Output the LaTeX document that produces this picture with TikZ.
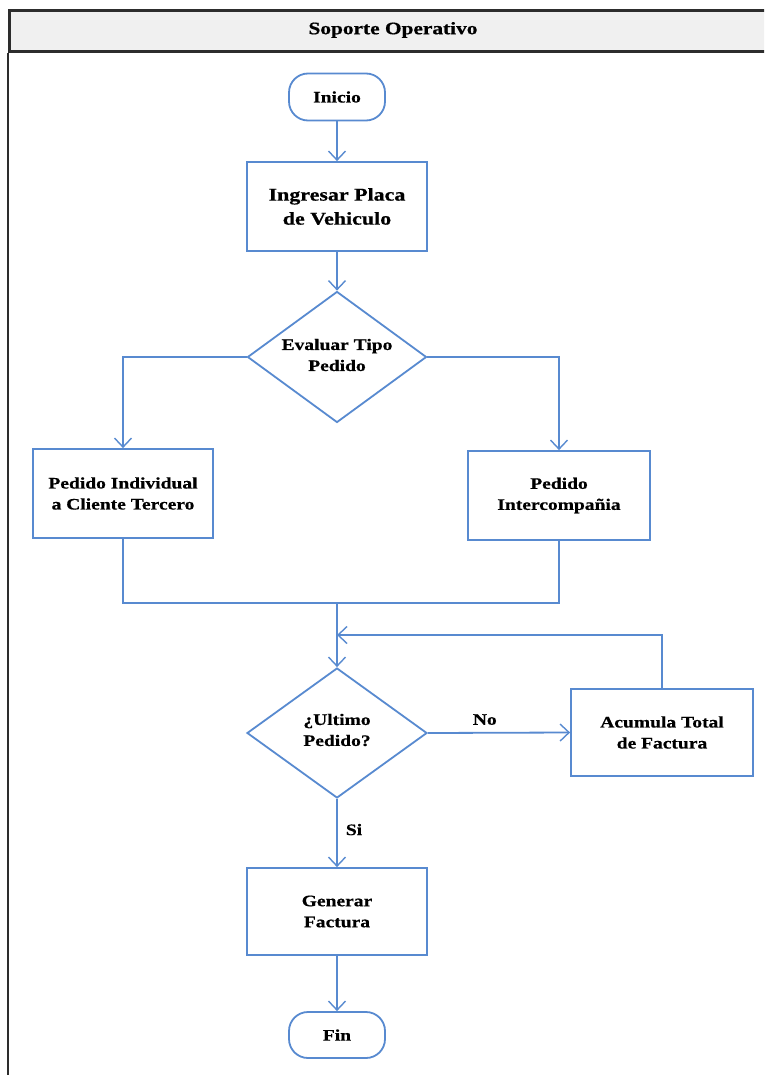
\documentclass[tikz,border=0pt]{standalone}
\usepackage{fontspec}
\setmainfont{Liberation Serif}[FakeStretch=1.22, BoldFeatures={FakeBold=0.6}]
\usetikzlibrary{shapes.geometric,arrows.meta}
\definecolor{flow}{RGB}{88,138,208}
\definecolor{frame}{RGB}{45,45,45}
\definecolor{headfill}{RGB}{240,240,240}
\begin{document}
\begin{tikzpicture}[x=1pt,y=-1pt,
  every node/.style={font=\bfseries\fontsize{16}{21}\selectfont, align=center, inner sep=0pt},
  >={Straight Barb[length=9pt,width=17pt,line width=1.4pt]},
  link/.style={draw=flow, line width=1.8pt},
  stepbox/.style={draw=flow, line width=1.8pt, fill=white, rectangle},
  term/.style={draw=flow, line width=1.8pt, fill=white, rectangle, rounded corners=19pt,
               minimum width=96pt, minimum height=47pt},
  decision/.style={draw=flow, line width=1.8pt, fill=white, diamond},
  tag/.style={font=\bfseries\fontsize{16}{20}\selectfont}
]
\useasboundingbox (0,0) rectangle (764,1075);
\clip (0,0) rectangle (764,1075);
\fill[white] (0,0) rectangle (764,1075);

% pool header and frame
\node[draw=frame, line width=2.8pt, fill=headfill, anchor=north west,
      minimum width=770pt, minimum height=41pt] (hdr) at (8,9) {};
\node[font=\bfseries\fontsize{17.5}{21}\selectfont] (hdrt) at (393,30) {Soporte Operativo};
\draw[frame, line width=2.8pt] (hdr.south west) -- (8,1085);

% steps
\node[term] (inicio) at (337,97) {Inicio};
\node[stepbox, minimum width=180pt, minimum height=89pt] (placa) at (337,206.5) {};
\node[font=\bfseries\fontsize{18}{24}\selectfont] (placat) at (placa) {Ingresar Placa\\de Vehiculo};

\node[decision, minimum width=179pt, minimum height=131pt] (tipo) at (337,357) {};
\node (tipot) at (337,355) {Evaluar Tipo\\Pedido};

\node[stepbox, minimum width=180pt, minimum height=89pt] (pind) at (123,493.5) {};
\node (pindt) at (pind) {Pedido Individual\\a Cliente Tercero};

\node[stepbox, minimum width=182pt, minimum height=89pt] (pint) at (559,495.5) {};
\node (pintt) at (pint) {Pedido\\Intercompañia};

\coordinate (merge) at (337,603);
\coordinate (loopin) at (337,635);

\node[decision, minimum width=180pt, minimum height=130pt] (ultimo) at (337,733) {};
\node (ultimot) at (337,730) {¿Ultimo\\Pedido?};

\node[stepbox, minimum width=182pt, minimum height=87pt] (acum) at (662,732.5) {};
\node (acumt) at (acum) {Acumula Total\\de Factura};

\node[stepbox, minimum width=180pt, minimum height=87pt] (gen) at (337,911.5) {};
\node (gent) at (gen) {Generar\\Factura};

\node[term, minimum height=46pt] (fin) at (337,1035) {Fin};

% connectors
\draw[link,->] (inicio) -- (placa);
\draw[link,->] (placa) -- (tipo.north);
\draw[link,->] (tipo.west) -| (pind.north);
\draw[link,->] (tipo.east) -| (pint.north);
\draw[link] (pind.south) |- (merge);
\draw[link] (pint.south) |- (merge);
\draw[link,->] (merge) -- (ultimo.north);
\draw[link,->] (ultimo.east) -- node[tag, above=7pt, pos=0.4] (no) {No} (acum.west);
\draw[link,->] (acum.north) |- (loopin);
\draw[link,->] (ultimo.south) -- node[tag, right=8pt, pos=0.45] (si) {Si} (gen.north);
\draw[link,->] (gen) -- (fin);
\end{tikzpicture}
\end{document}
